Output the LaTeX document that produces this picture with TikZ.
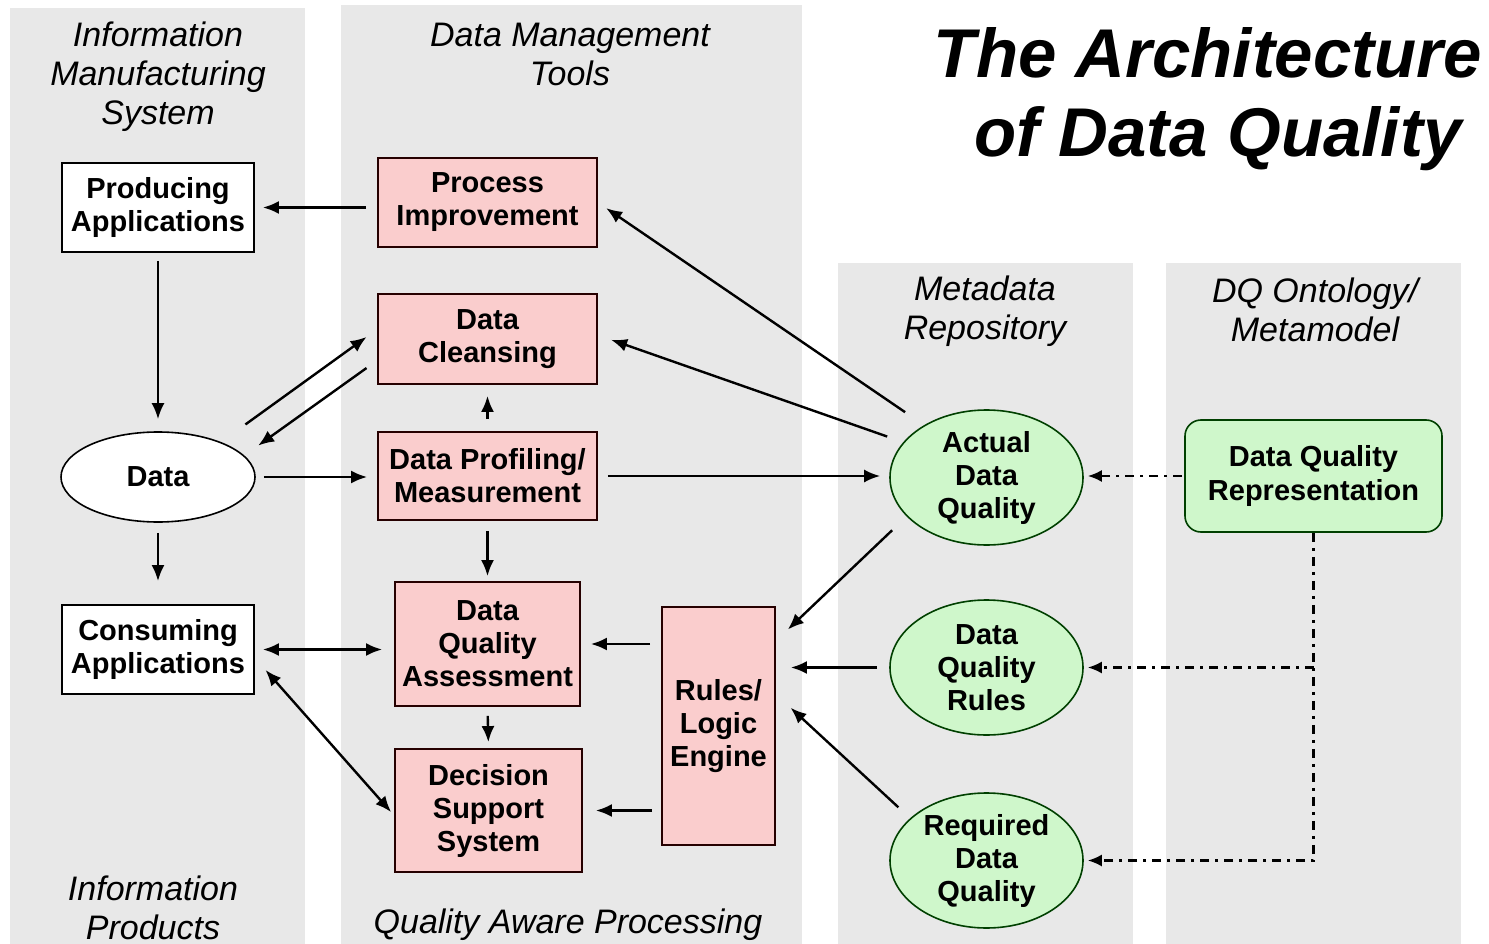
\documentclass[tikz,border=0pt]{standalone}
\usepackage{fontspec}
\setmainfont{Liberation Sans}
\usetikzlibrary{arrows.meta,shapes.geometric}
\definecolor{panelgray}{RGB}{232,232,232}
\definecolor{pinkfill}{RGB}{250,205,205}
\definecolor{greenfill}{RGB}{207,247,203}
\begin{document}
\begin{tikzpicture}[x=1pt,y=-1pt,
 panel/.style={fill=panelgray,draw=none},
 boxtext/.style={font=\fontsize{29}{33}\selectfont\bfseries, align=center, inner sep=0pt},
 whitebox/.style={boxtext, rectangle, draw=black, line width=1.8pt, fill=white},
 pinkbox/.style={boxtext, rectangle, draw=black!85!red, line width=1.8pt, fill=pinkfill},
 greenell/.style={boxtext, ellipse, draw=black!75!green, line width=1.6pt, fill=greenfill},
 heading/.style={font=\fontsize{34}{39}\selectfont\itshape, align=center, inner sep=0pt},
 tip/.tip={Latex[length=16pt,width=13pt]},
 arr/.style={-tip, line width=2.4pt},
 dbl/.style={tip-tip, line width=2.4pt},
 dda/.style={-{Latex[length=14pt,width=12pt]}, line width=2.2pt, dash pattern=on 9pt off 6pt on 3pt off 6pt},
]
\useasboundingbox (0,0) rectangle (1489,944);
\fill[white] (0,0) rectangle (1489,944);
% panels
\fill[panel] (10,8) rectangle (305,944);
\fill[panel] (341,5) rectangle (802,944);
\fill[panel] (838,263) rectangle (1133,944);
\fill[panel] (1166,263) rectangle (1461,944);

% headings
\node[heading] (h1) at (158,77) {Information\\Manufacturing\\System};
\node[heading] (h2) at (570,54) {Data Management\\Tools};
\node[heading] (h3) at (985,311) {Metadata\\Repository};
\node[heading] (h4) at (1315,310) {DQ Ontology/\\Metamodel};
\node[heading] (h5) at (153,908) {Information\\Products};
\node[heading] (h6) at (568,925) {Quality Aware Processing};
\node[font=\fontsize{69}{79}\selectfont\bfseries\itshape, align=center, inner sep=0pt] (title) at (1208,99) {The Architecture\\\hspace*{20pt}of Data Quality};

% nodes
\node[whitebox, minimum width=192pt, minimum height=89pt] (pa) at (158,207.5) {Producing\\Applications};
\node[pinkbox, minimum width=219pt, minimum height=89pt] (pi) at (487.5,202.5) {Process\\Improvement};
\node[pinkbox, minimum width=219pt, minimum height=90pt] (dc) at (487.5,339) {Data\\Cleansing};
\node[pinkbox, minimum width=219pt, minimum height=88pt] (dp) at (487.5,476) {Data Profiling/\\Measurement};
\node[pinkbox, minimum width=185pt, minimum height=124pt] (dqa) at (487.5,644) {Data\\Quality\\Assessment};
\node[pinkbox, minimum width=187pt, minimum height=123pt] (dss) at (488.5,810.5) {Decision\\Support\\System};
\node[pinkbox, minimum width=113pt, minimum height=238pt] (rle) at (718.5,726) {Rules/\\Logic\\Engine};
\node[boxtext, ellipse, draw=black, line width=1.6pt, fill=white, minimum width=194pt, minimum height=90pt] (data) at (158,477) {Data};
\node[whitebox, minimum width=192pt, minimum height=89pt] (ca) at (158,649.5) {Consuming\\Applications};
\node[greenell, minimum width=193pt, minimum height=135pt] (adq) at (986.5,477.5) {Actual\\Data\\Quality};
\node[greenell, minimum width=193pt, minimum height=135pt] (dqr) at (986.5,667.5) {Data\\Quality\\Rules};
\node[greenell, minimum width=193pt, minimum height=135pt] (rdq) at (986.5,860.5) {Required\\Data\\Quality};
\node[boxtext, rectangle, rounded corners=16pt, draw=black!75!green, line width=1.6pt, fill=greenfill, minimum width=257pt, minimum height=112pt] (dqrep) at (1313.5,476) {Data Quality\\Representation};

% connectors
\draw[arr, shorten <=11pt, shorten >=8pt] (pa.east -| pi.west) -- (pa.east);
\draw[arr, shorten <=8pt, shorten >=12pt] (pa.south) -- (data.north);
\draw[arr, shorten <=30pt, shorten >=13pt] (data.29) -- (dc.175);
\draw[arr, shorten <=13pt, shorten >=17pt] (dc.191) -- (data.14);
\draw[arr, shorten <=8pt, shorten >=10pt] (data.east) -- (data.east -| dp.west);
\draw[arr, shorten <=12pt, shorten >=11pt] (dp.north) -- (dc.south);
\draw[arr, shorten <=10pt, shorten >=5pt] (dp.south) -- (dqa.north);
\draw[arr, shorten <=10pt, shorten >=23pt] (data.south) -- (ca.north);
\draw[dbl, shorten <=8pt, shorten >=12pt] (ca.east) -- (ca.east -| dqa.west);
\draw[dbl, shorten <=16pt, shorten >=4.5pt] (ca.-5.5) -- (dss.183);
\draw[arr, shorten <=9pt, shorten >=6pt] (dqa.south) -- (dss.north);
\draw[arr, shorten <=11pt, shorten >=10pt] (dqa.east -| rle.west) -- (dqa.east);
\draw[arr, shorten <=9pt, shorten >=13pt] (dss.east -| rle.west) -- (dss.east);
\draw[arr, shorten <=23pt, shorten >=10pt] (adq.140) -- (pi.east);
\draw[arr, shorten <=17pt, shorten >=14pt] (adq.157) -- (dc.2);
\draw[arr, shorten <=10pt, shorten >=9pt] (dp.east) -- (dp.east -| adq.west);
\draw[arr, shorten <=20pt, shorten >=16.5pt] (adq.206) -- (rle.56);
\draw[arr, shorten <=12pt, shorten >=15pt] (dqr.west) -- (dqr.west -| rle.east);
\draw[arr, shorten <=16pt, shorten >=20pt] (rdq.151) -- (rle.29);
\draw[dda, shorten <=2pt, shorten >=4pt] (dqrep.west) -- (dqrep.west -| adq.east);
\draw[dda, shorten >=4pt] (dqrep.south) |- (rdq.east);
\draw[dda, shorten >=4pt] (dqrep.south |- dqr.east) -- (dqr.east);
\end{tikzpicture}
\end{document}
